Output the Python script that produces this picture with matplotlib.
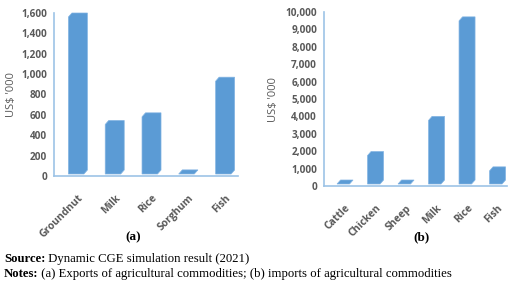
import matplotlib
matplotlib.use("Agg")
import matplotlib.pyplot as plt
from matplotlib.patches import Polygon
from matplotlib.offsetbox import TextArea, HPacker, AnchoredOffsetbox

# ---- data ----
cats_a = ["Groundnut", "Milk", "Rice", "Sorghum", "Fish"]
vals_a = [1600, 545, 620, 60, 970]
ticks_a = [0, 200, 400, 600, 800, 1000, 1200, 1400, 1600]

cats_b = ["Cattle", "Chicken", "Sheep", "Milk", "Rice", "Fish"]
vals_b = [330, 1980, 300, 4000, 9720, 1100]
ticks_b = [0, 1000, 2000, 3000, 4000, 5000, 6000, 7000, 8000, 9000, 10000]

W, H = 520, 285
fig = plt.figure(figsize=(W / 100, H / 100), dpi=100)

BAR = "#5B9BD5"
EDGE = "#82B4E3"
AX = "#9DC3E6"
TXT = "#595959"
FONT = "Open Sans"
SERIF = "Liberation Serif"


def make_axes(px_left, px_right, px_top, px_bottom):
    return fig.add_axes([px_left / W, (H - px_bottom) / H,
                         (px_right - px_left) / W, (px_bottom - px_top) / H])


def draw_panel(ax, cats, vals, ticks, xlim, ax_w, ax_h, width, ylab_x):
    ax.set_xlim(*xlim)
    ax.set_ylim(ticks[0], ticks[-1])
    sx = (xlim[1] - xlim[0]) / ax_w       # data units per pixel (x)
    sy = (ticks[-1] - ticks[0]) / ax_h    # data units per pixel (y)
    dx, dy = 3.5 * sx, 4 * sy
    b0 = 2 * sy
    for i, v in enumerate(vals):
        x0 = i - width / 2
        x1 = i + width / 2 - dx
        ftop = max(b0, v - dy)
        verts = [(x0, b0), (x0, ftop), (x0 + dx, max(v, b0 + dy)),
                 (x1 + dx, max(v, b0 + dy)), (x1 + dx, b0 + dy), (x1, b0)]
        ax.add_patch(Polygon(verts, closed=True, facecolor=BAR,
                             edgecolor=EDGE, linewidth=0.5, clip_on=False))
    ax.set_yticks(ticks)
    ax.set_yticklabels([f"{t:,}" for t in ticks], fontsize=7.2, fontweight="bold",
                       color=TXT, family=FONT)
    ax.set_xticks(range(len(cats)))
    ax.set_xticklabels(cats, rotation=45, ha="right", va="top",
                       rotation_mode="anchor", fontsize=7.4, fontweight="bold",
                       color=TXT, family=FONT)
    ax.tick_params(axis="both", length=0)
    ax.tick_params(axis="y", pad=5)
    ax.tick_params(axis="x", pad=12)
    for s in ("top", "right"):
        ax.spines[s].set_visible(False)
    for s in ("left", "bottom"):
        ax.spines[s].set_color(AX)
        ax.spines[s].set_linewidth(1.2)
    ax.set_ylabel("US$ '000", fontsize=8, color=TXT, family=FONT)
    ax.yaxis.set_label_coords(ylab_x, 0.5)
    ax.patch.set_alpha(0)


# panel (a)
axa = make_axes(54, 238, 13, 176)
draw_panel(axa, cats_a, vals_a, ticks_a, (-0.65, 4.35), 184, 163, 0.516, (17 - 54) / 184)

# panel (b)
axb = make_axes(324, 507, 12, 186)
draw_panel(axb, cats_b, vals_b, ticks_b, (-0.69, 5.31), 183, 174, 0.525, (279 - 324) / 183)

fig.text(133 / W, 1 - 237 / H, "(a)", ha="center", va="center",
         fontsize=9.5, fontweight="bold", family=SERIF)
fig.text(422 / W, 1 - 237 / H, "(b)", ha="center", va="center",
         fontsize=9.5, fontweight="bold", family=SERIF)


def line(y, bold, rest):
    a = TextArea(bold, textprops=dict(fontsize=9.2, fontweight="bold", family=SERIF))
    b = TextArea(rest, textprops=dict(fontsize=9.2, family=SERIF))
    box = HPacker(children=[a, b], align="baseline", pad=0, sep=0)
    ab = AnchoredOffsetbox(loc="center left", child=box, pad=0, borderpad=0, frameon=False,
                           bbox_to_anchor=(4 / W, 1 - y / H), bbox_transform=fig.transFigure)
    fig.add_artist(ab)


line(259, "Source:", " Dynamic CGE simulation result (2021)")
line(274, "Notes:", " (a) Exports of agricultural commodities; (b) imports of agricultural commodities")

fig.savefig("out.png", dpi=100)
